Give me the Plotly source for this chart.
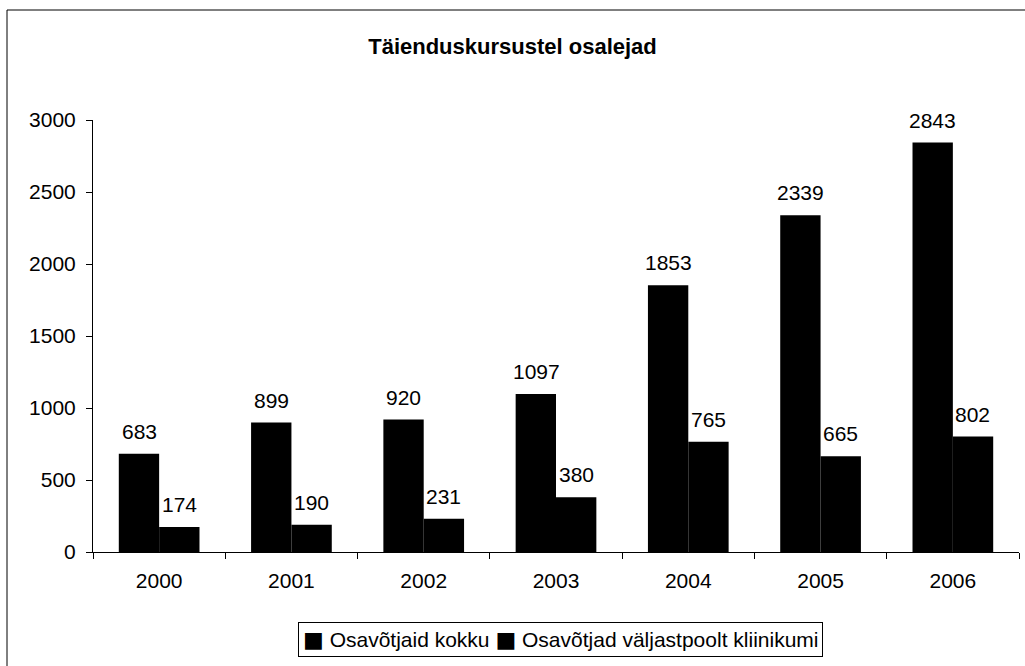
import plotly.graph_objects as go

years = ["2000", "2001", "2002", "2003", "2004", "2005", "2006"]
kokku = [683, 899, 920, 1097, 1853, 2339, 2843]
valjastpoolt = [174, 190, 231, 380, 765, 665, 802]
series_names = ["Osavõtjaid kokku", "Osavõtjad väljastpoolt kliinikumi"]
y_ticks = [0, 500, 1000, 1500, 2000, 2500, 3000]

FONT = "Liberation Sans, Arial, sans-serif"
FS = 21

fig = go.Figure()
for name, vals in zip(series_names, [kokku, valjastpoolt]):
    fig.add_trace(go.Bar(
        x=years, y=vals, name=name,
        marker=dict(color="#000000", line=dict(width=0)),
        showlegend=False,
    ))

# value labels above each bar, offset to the bar's slot within the group
for offset, vals in zip([-20, 20], [kokku, valjastpoolt]):
    for i, v in enumerate(vals):
        fig.add_annotation(x=i, y=v, text=str(v), showarrow=False,
                           xref="x", yref="y", xanchor="center", yanchor="bottom",
                           xshift=offset, yshift=9,
                           font=dict(family=FONT, size=FS, color="#000000"))

# legend box
square = '<span style="font-family:DejaVu Sans;font-size:22px">■</span>'
legend_text = " ".join(square + " " + n for n in series_names)
fig.add_annotation(x=(560.5 - 93) / 926, y=(552 - 639.5) / 432, xref="paper", yref="paper",
                   text=legend_text, showarrow=False, xanchor="center", yanchor="middle",
                   bordercolor="#000000", borderwidth=1, borderpad=4, bgcolor="white",
                   font=dict(family=FONT, size=FS, color="#000000"))

fig.update_layout(
    width=1025, height=666,
    margin=dict(l=93, r=6, t=120, b=114),
    paper_bgcolor="white", plot_bgcolor="white",
    font=dict(family=FONT, size=FS, color="#000000"),
    title=dict(text="<b>Täienduskursustel osalejad</b>", x=0.5, xanchor="center",
               y=1 - 46 / 666, yanchor="middle",
               font=dict(family=FONT, size=22, color="#000000")),
    barmode="group", bargap=0.39, bargroupgap=0,
    showlegend=False,
    xaxis=dict(type="category", range=[-0.5, 6.5], showline=True, linecolor="#000000",
               linewidth=1, ticks="outside", tickson="boundaries", ticklen=6,
               tickcolor="#000000", showgrid=False, tickfont=dict(size=FS),
               ticklabelstandoff=10, tickangle=0),
    yaxis=dict(range=[0, 3000], tickvals=y_ticks, showline=True, linecolor="#000000",
               linewidth=1, ticks="outside", ticklen=6, tickcolor="#000000",
               showgrid=False, zeroline=False, tickfont=dict(size=FS), ticklabelstandoff=6),
)

# chart frame (left and top edges)
fig.add_shape(type="line", xref="paper", yref="paper",
              x0=(7 - 93) / 926, x1=(7 - 93) / 926, y0=(552 - 10) / 432, y1=(552 - 700) / 432,
              line=dict(color="#000000", width=1))
fig.add_shape(type="line", xref="paper", yref="paper",
              x0=(7 - 93) / 926, x1=(1030 - 93) / 926, y0=(552 - 10) / 432, y1=(552 - 10) / 432,
              line=dict(color="#000000", width=1))

fig.write_html("out.html")
